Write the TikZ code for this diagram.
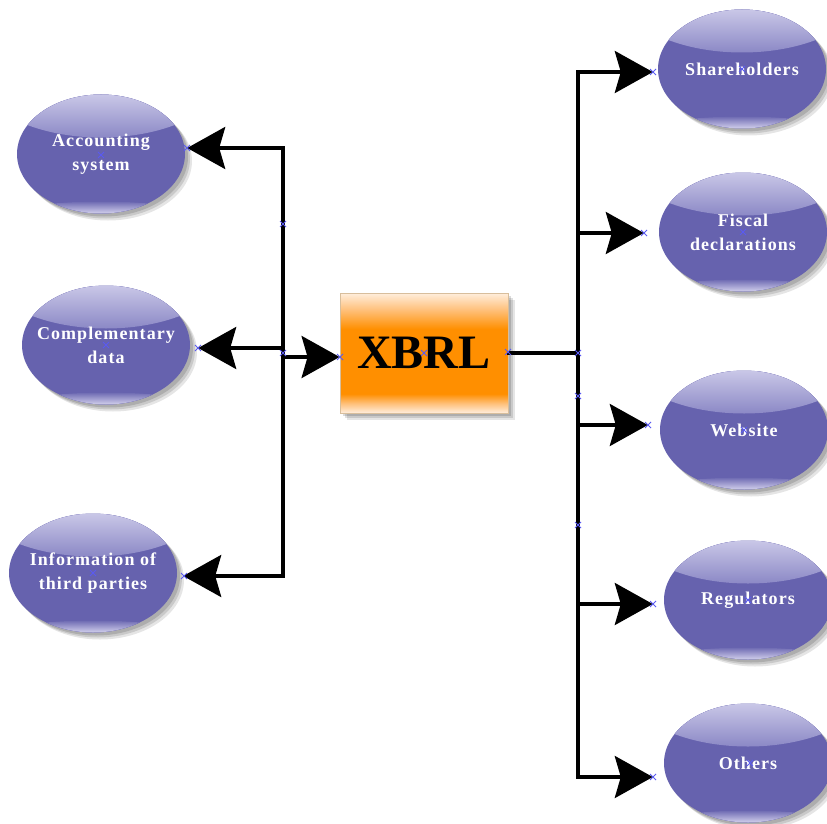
\documentclass[tikz,border=0pt]{standalone}
\usepackage{fontspec}
\setmainfont{Liberation Serif}
\newfontfamily\bubfont[LetterSpace=6]{Liberation Serif}
\usetikzlibrary{shapes.geometric,arrows.meta,shadows,calc}

\definecolor{ellbase}{HTML}{6662AE}
\definecolor{elltop}{HTML}{C9C7E7}
\definecolor{ellmid}{HTML}{8A87C5}
\definecolor{ellbot}{HTML}{D2D0EC}
\definecolor{xorange}{HTML}{FF8F00}
\definecolor{xlight}{HTML}{FFEEDD}
\definecolor{xsoft}{HTML}{FFC07A}
\definecolor{xedge}{HTML}{D8BE9C}
\definecolor{pinblue}{HTML}{5A5AF2}

% orange fill that pales at the top and bottom edges
\pgfdeclareverticalshading{xbrlfill}{100bp}{%
  color(0bp)=(xlight); color(25bp)=(xlight); color(29bp)=(xsoft); color(33bp)=(xorange);
  color(60bp)=(xorange); color(68bp)=(xsoft); color(75bp)=(xlight); color(100bp)=(xlight)}

\tikzset{
  % soft shadow built from a few translucent layers
  softshadow/.style={
    drop shadow={opacity=0.10, shadow xshift=7pt, shadow yshift=-7pt, fill=black},
    drop shadow={opacity=0.12, shadow xshift=5pt, shadow yshift=-5pt, fill=black},
    drop shadow={opacity=0.14, shadow xshift=3pt, shadow yshift=-3pt, fill=black}},
  bub/.style={ellipse, minimum width=168pt, minimum height=119pt,
    inner xsep=-22pt, inner ysep=-10pt,
    fill=ellbase, text=white, align=center,
    font=\bubfont\bfseries\fontsize{18}{24}\selectfont,
    softshadow,
    path picture={
      % glossy cap at the top
      \begin{scope}
        \clip ([yshift=28pt]path picture bounding box.north) ellipse [x radius=130pt, y radius=71pt];
        \fill[top color=elltop, bottom color=ellmid]
          (path picture bounding box.north west) rectangle
          ([yshift=-44pt]path picture bounding box.north east);
      \end{scope}
      % light rim at the bottom
      \begin{scope}
        \clip ([yshift=-60pt]path picture bounding box.south) ellipse [x radius=200pt, y radius=72pt];
        \fill[top color=ellbase, bottom color=ellbot]
          ([yshift=13pt]path picture bounding box.south west) rectangle
          (path picture bounding box.south east);
      \end{scope}
    }},
  xbox/.style={rectangle, minimum width=168pt, minimum height=120pt, inner sep=0pt,
    shading=xbrlfill, draw=xedge, line width=0.8pt,
    font=\bfseries\fontsize{48}{48}\selectfont,
    softshadow},
  wire/.style={line width=3.6pt, line cap=rect},
  conn/.style={line width=3.6pt, -{Stealth[length=38pt, width=42pt, inset=6pt]}},
  xm/.pic={\draw[pinblue, line width=1pt] (-3pt,-3pt) -- (3pt,3pt) (-3pt,3pt) -- (3pt,-3pt);},
}

\begin{document}
\begin{tikzpicture}[x=1pt, y=-1pt]
\useasboundingbox (0,0) rectangle (827,824);

% sources on the left
\node[bub] (acc)   at (101,154) {Accounting\\system};
\node[bub] (comp)  at (106,345) {Complementary\\data};
\node[bub] (third) at (93,573)  {Information of\\third parties};

% the central box
\node[xbox] (xbrl) at (424,353) {XBRL};

% targets on the right
\node[bub] (sh)  at (742,69)  {Shareholders};
\node[bub] (fis) at (743,232) {Fiscal\\declarations};
\node[bub] (web) at (744,430) {Website};
\node[bub] (reg) at (748,600) {Regulators};
\node[bub] (oth) at (748,763) {Others};

% junction points
\coordinate (L1) at (283,148);
\coordinate (L2) at (283,348);
\coordinate (L3) at (283,576);
\coordinate (L4) at (283,357);
\coordinate (R0) at (578,353);
\coordinate (R1) at (578,72);
\coordinate (R2) at (578,233);
\coordinate (R3) at (578,425);
\coordinate (R4) at (578,604);
\coordinate (R5) at (578,777);

% left tree
\draw[wire] (L1) -- (L3);
\draw[conn] (L1) -- ($(acc.east |- L1)+(2,0)$);
\draw[conn] (L2) -- ($(comp.east |- L2)+(8,0)$);
\draw[conn] (L3) -- ($(third.east |- L3)+(6,0)$);
\draw[conn] (L4) -- (xbrl.west |- L4);

% right tree
\draw[wire] (xbrl.east |- R0) -- (R0);
\draw[wire] (R1) -- (R5);
\draw[conn] (R1) -- ($(sh.west |- R1)+(-5,0)$);
\draw[conn] (R2) -- ($(fis.west |- R2)+(-15,0)$);
\draw[conn] (R3) -- ($(web.west |- R3)+(-12,0)$);
\draw[conn] (R4) -- ($(reg.west |- R4)+(-11,0)$);
\draw[conn] (R5) -- ($(oth.west |- R5)+(-11,0)$);

% connection pins
\foreach \p in {(101,155),(106,345),(93,573),(742,69),(743,232),(744,430),(748,600),(750,763),
                (187,148),(198,348),(184,576),(653,72),(644,233),(648,425),(653,604),(653,777),
                (283,224),(283,353),(340,357),(424,353),(508,352),(578,353),(578,396),(578,525)}
  \pic at \p {xm};
\end{tikzpicture}
\end{document}
